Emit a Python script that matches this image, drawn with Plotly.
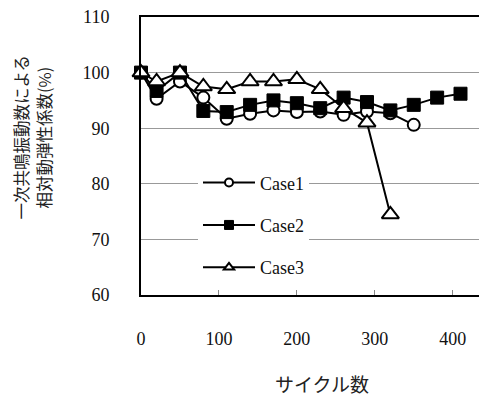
import plotly.graph_objects as go

case1_x = [0, 20, 50, 80, 110, 140, 170, 200, 230, 260, 290, 320, 350]
case1_y = [100, 95.3, 98.4, 95.5, 91.7, 92.6, 93.2, 92.9, 93.0, 92.4, 93.0, 92.7, 90.6]

case2_x = [0, 20, 50, 80, 110, 140, 170, 200, 230, 260, 290, 320, 350, 380, 410]
case2_y = [100, 96.7, 100, 93.1, 92.9, 94.2, 95.0, 94.5, 93.6, 95.5, 94.7, 93.2, 94.2, 95.5, 96.2]

case3_x = [0, 20, 50, 80, 110, 140, 170, 200, 230, 260, 290, 320]
case3_y = [100, 98.4, 100, 97.5, 97.0, 98.4, 98.4, 98.8, 97.0, 93.6, 91.0, 74.5]

names = ["Case1", "Case2", "Case3"]
x_ticks = [0, 100, 200, 300, 400]
y_ticks = [60, 70, 80, 90, 100, 110]

serif = "Liberation Serif"
cjk = "Noto Sans CJK JP"

fig = go.Figure()
line = dict(color="black", width=2)
markers = [
    dict(symbol="circle", size=12, color="white", line=dict(color="black", width=2)),
    dict(symbol="square", size=13, color="black", line=dict(color="black", width=1)),
    dict(symbol="triangle-up", size=15, color="white", line=dict(color="black", width=2)),
]
legend_markers = [
    dict(symbol="circle", size=8, color="white", line=dict(color="black", width=2)),
    dict(symbol="square", size=9, color="black", line=dict(color="black", width=1)),
    dict(symbol="triangle-up", size=9, color="white", line=dict(color="black", width=2)),
]
for xs, ys, nm, mk, lmk in zip([case1_x, case2_x, case3_x], [case1_y, case2_y, case3_y], names, markers, legend_markers):
    fig.add_trace(go.Scatter(x=xs, y=ys, name=nm, mode="lines+markers", line=line, marker=mk,
                             showlegend=False, cliponaxis=False))
    fig.add_trace(go.Scatter(x=[None], y=[None], name=nm, mode="lines+markers", line=line, marker=lmk,
                             showlegend=True, legendgroup=nm))

# page body has an 8px default margin, so the figure is placed at (8, 8)
fig.update_layout(
    width=479, height=395,
    margin=dict(l=133, r=0, t=9, b=108, autoexpand=False),
    paper_bgcolor="white", plot_bgcolor="white",
    font=dict(family=serif, size=18, color="#111"),
    showlegend=True,
    legend=dict(x=(198 - 141) / 346, y=0.47, xanchor="left", yanchor="top",
                bgcolor="white", borderwidth=0,
                font=dict(family=serif, size=18, color="#111"),
                tracegroupgap=16, itemwidth=52),
    xaxis=dict(range=[0, 444], tickvals=x_ticks, ticktext=[str(v) for v in x_ticks],
               showgrid=False, zeroline=False, showline=True, linecolor="black", linewidth=2,
               mirror=True, ticks="inside", ticklen=5, tickcolor="#888", tickwidth=1,
               automargin=False, ticklabeloverflow="allow",
               ticklabelstandoff=26, tickfont=dict(family=serif, size=18, color="#111")),
    yaxis=dict(range=[60, 110], tickvals=y_ticks, ticktext=[str(v) for v in y_ticks],
               showgrid=True, gridcolor="#999", gridwidth=1, zeroline=False,
               showline=True, linecolor="black", linewidth=2, ticks="",
               automargin=False, ticklabeloverflow="allow",
               ticklabelstandoff=26, tickfont=dict(family=serif, size=18, color="#111")),
    annotations=[
        dict(text="一次共鳴振動数による", xref="paper", yref="paper", x=(20 - 141) / 346, y=(295 - 137.5) / 278,
             xanchor="center", yanchor="middle", showarrow=False, textangle=-90,
             font=dict(family=cjk, size=16.5, color="#222")),
        dict(text="相対動弾性係数(%)", xref="paper", yref="paper", x=(43 - 141) / 346, y=(295 - 137.5) / 278,
             xanchor="center", yanchor="middle", showarrow=False, textangle=-90,
             font=dict(family=cjk, size=16.5, color="#222")),
        dict(text="サイクル数", xref="paper", yref="paper", x=(322 - 141) / 346, y=(295 - 383) / 278,
             xanchor="center", yanchor="middle", showarrow=False,
             font=dict(family=cjk, size=19, color="#222")),
    ],
)

fig.write_html("out.html")
